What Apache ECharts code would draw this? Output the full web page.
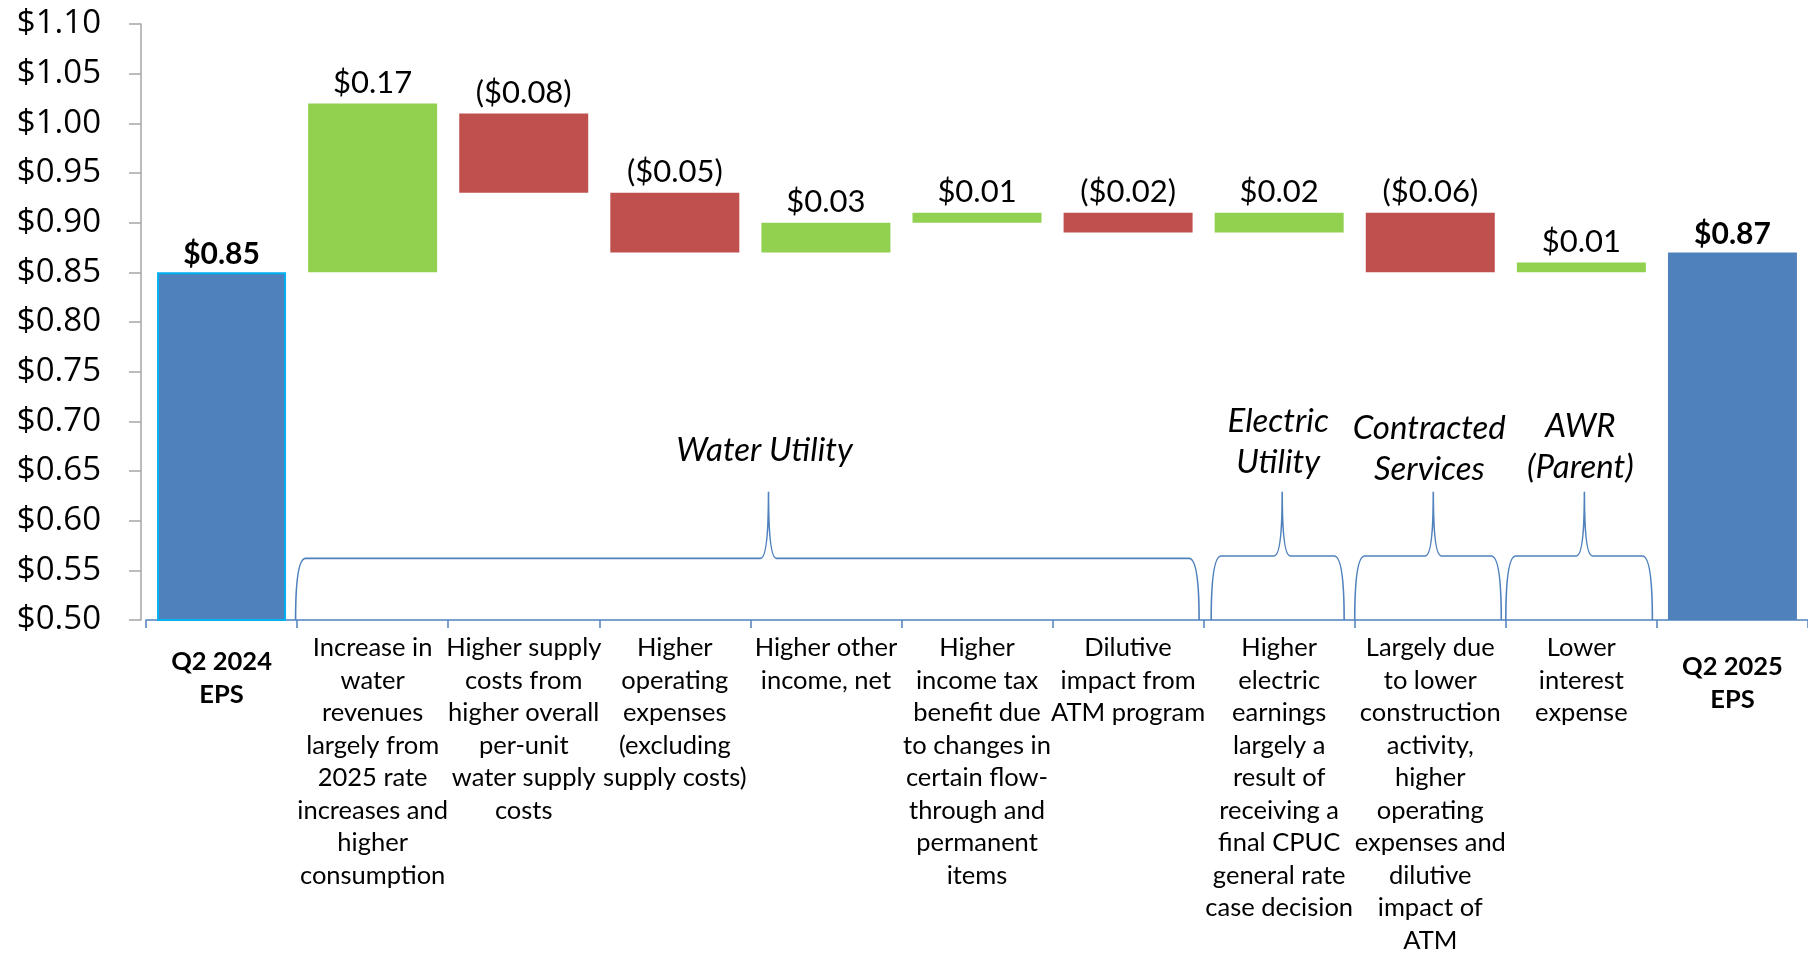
<!DOCTYPE html>
<html>
<head>
<meta charset="utf-8">
<title>EPS bridge: Q2 2024 to Q2 2025</title>
<script src="https://cdn.jsdelivr.net/npm/echarts@6/dist/echarts.min.js"></script>
<style>
  html, body { margin: 0; padding: 0; background: #ffffff; }
  #chart { width: 1808px; height: 957px; }
</style>
</head>
<body>
<div id="chart"></div>
<script>
// Bridge data
const categories = [
  "Q2 2024\nEPS",
  "Increase in\nwater\nrevenues\nlargely from\n2025 rate\nincreases and\nhigher\nconsumption",
  "Higher supply\ncosts from\nhigher overall\nper-unit\nwater supply\ncosts",
  "Higher\noperating\nexpenses\n(excluding\nsupply costs)",
  "Higher other\nincome, net",
  "Higher\nincome tax\nbenefit due\nto changes in\ncertain flow-\nthrough and\npermanent\nitems",
  "Dilutive\nimpact from\nATM program",
  "Higher\nelectric\nearnings\nlargely a\nresult of\nreceiving a\nfinal CPUC\ngeneral rate\ncase decision",
  "Largely due\nto lower\nconstruction\nactivity,\nhigher\noperating\nexpenses and\ndilutive\nimpact of\nATM",
  "Lower\ninterest\nexpense",
  "Q2 2025\nEPS",
];
const barKind = ["total", "up", "down", "down", "up", "up", "down", "up", "down", "up", "total"];
const barLow = [0.5, 0.85, 0.93, 0.87, 0.87, 0.9, 0.89, 0.89, 0.85, 0.85, 0.5];
const barHigh = [0.85, 1.02, 1.01, 0.93, 0.9, 0.91, 0.91, 0.91, 0.91, 0.86, 0.87];
const valueLabels = ["$0.85", "$0.17", "($0.08)", "($0.05)", "$0.03", "$0.01", "($0.02)", "$0.02", "($0.06)", "$0.01", "$0.87"];

// y axis ticks
const yMin = 0.5;
const yMax = 1.1;
const yStep = 0.05;

// Segment braces (x in category index units, y in $)
const groupNames = ["Water Utility", "Electric\nUtility", "Contracted\nServices", "AWR\n(Parent)"];
const groupFrom = [0.49, 6.55, 7.5, 8.5];
const groupTo = [6.47, 7.43, 8.47, 9.47];
const groupPeakAt = [3.62, 7.02, 8.02, 9.02];
const groupArm = [0.562, 0.5645, 0.5645, 0.5645];
const groupPeak = [0.629, 0.629, 0.629, 0.629];
const groupLabelAt = [0.671, 0.679, 0.672, 0.674];

const COLORS = {
  total: "#4F81BD",
  up: "#92D050",
  down: "#C0504D",
  brace: "#4F81BD",
};

document.addEventListener("DOMContentLoaded", function () {
  const chart = echarts.init(document.getElementById("chart"));

  // waterfall pieces
  const placeholder = barKind.map((k, i) => (k === "total" ? "-" : barLow[i]));
  const upData = barKind.map((k, i) => (k === "up" ? +(barHigh[i] - barLow[i]).toFixed(4) : "-"));
  const downData = barKind.map((k, i) => (k === "down" ? +(barHigh[i] - barLow[i]).toFixed(4) : "-"));
  const totalData = barKind.map((k, i) => {
    if (k !== "total") return "-";
    if (i === 0) {
      return { value: barHigh[i], itemStyle: { borderColor: "#00B0F0", borderWidth: 2 } };
    }
    return barHigh[i];
  });

  const catData = categories.map((c, i) => {
    if (barKind[i] !== "total") return c;
    return {
      value: c,
      textStyle: { fontWeight: "bold", padding: [i === 0 ? 14 : 19, 0, 0, 0] },
    };
  });

  const braceData = groupNames.map((n, i) => ({
    name: n,
    value: [groupFrom[i], groupTo[i], groupPeakAt[i], groupArm[i], groupPeak[i], groupLabelAt[i]],
  }));

  const labelFont = "Lato";
  const valueLabel = {
    show: true,
    position: "top",
    distance: 5,
    color: "#000",
    fontFamily: labelFont,
    fontSize: 31,
    formatter: (p) => valueLabels[p.dataIndex],
  };

  const option = {
    animation: false,
    backgroundColor: "#ffffff",
    grid: { left: 146, top: 24, width: 1680, height: 608 },
    xAxis: [
      {
        type: "category",
        data: catData,
        axisLine: { lineStyle: { color: "#4F81BD", width: 1.5 } },
        axisTick: { show: true, length: 8, lineStyle: { color: "#4F81BD", width: 1.5 } },
        axisLabel: {
          interval: 0,
          margin: 12,
          color: "#000",
          fontFamily: labelFont,
          fontSize: 25.5,
          lineHeight: 32.5,
        },
      },
      { type: "value", min: -0.5, max: 10.5, show: false },
    ],
    yAxis: {
      type: "value",
      min: yMin,
      max: yMax,
      interval: yStep,
      offset: 5,
      splitLine: { show: false },
      axisLine: { show: true, onZero: false, lineStyle: { color: "#A6A6A6", width: 1.5 } },
      axisTick: { show: true, length: 12, lineStyle: { color: "#A6A6A6", width: 1.5 } },
      axisLabel: {
        margin: 40,
        color: "#000",
        fontFamily: "Open Sans",
        fontSize: 33,
        formatter: (v) => "$" + v.toFixed(2),
      },
    },
    series: [
      {
        name: "base",
        type: "bar",
        stack: "wf",
        barWidth: 129,
        barGap: "-100%",
        clip: true,
        itemStyle: { color: "transparent" },
        emphasis: { disabled: true },
        data: placeholder,
      },
      {
        name: "increase",
        type: "bar",
        stack: "wf",
        barWidth: 129,
        clip: true,
        itemStyle: { color: COLORS.up },
        label: valueLabel,
        data: upData,
      },
      {
        name: "decrease",
        type: "bar",
        stack: "wf",
        barWidth: 129,
        clip: true,
        itemStyle: { color: COLORS.down },
        label: valueLabel,
        data: downData,
      },
      {
        name: "EPS",
        type: "bar",
        barWidth: 129,
        barGap: "-100%",
        clip: true,
        itemStyle: { color: COLORS.total },
        label: Object.assign({}, valueLabel, { fontWeight: "bold", fontSize: 30, distance: 3 }),
        data: totalData,
      },
      {
        name: "segments",
        type: "custom",
        xAxisIndex: 1,
        yAxisIndex: 0,
        silent: true,
        data: braceData,
        renderItem: function (params, api) {
          const x0 = api.value(0);
          const x1 = api.value(1);
          const xm = api.value(2);
          const arm = api.value(3);
          const peak = api.value(4);
          const pL = api.coord([x0, yMin]);
          const pR = api.coord([x1, yMin]);
          const pA = api.coord([x0, arm]);
          const pP = api.coord([xm, peak]);
          const ya = pA[1];
          const c = 10; // end curl width
          const s = 8; // spike half width
          const d =
            "M" + pL[0] + "," + pL[1] +
            " Q" + pL[0] + "," + ya + " " + (pL[0] + c) + "," + ya +
            " L" + (pP[0] - s) + "," + ya +
            " Q" + pP[0] + "," + ya + " " + pP[0] + "," + pP[1] +
            " Q" + pP[0] + "," + ya + " " + (pP[0] + s) + "," + ya +
            " L" + (pR[0] - c) + "," + ya +
            " Q" + pR[0] + "," + ya + " " + pR[0] + "," + pR[1];
          const labelPos = api.coord([xm, api.value(5)]);
          const name = groupNames[params.dataIndex];
          return {
            type: "group",
            children: [
              {
                type: "path",
                shape: { pathData: d },
                style: { fill: "none", stroke: COLORS.brace, lineWidth: 1.6 },
              },
              {
                type: "text",
                x: labelPos[0] - 4,
                y: labelPos[1],
                style: {
                  text: name,
                  align: "center",
                  verticalAlign: "middle",
                  textAlign: "center",
                  textVerticalAlign: "middle",
                  font: "italic 33px Lato",
                  lineHeight: 41,
                  fill: "#000",
                },
              },
            ],
          };
        },
      },
    ],
  };

  chart.setOption(option);
});
</script>
</body>
</html>
